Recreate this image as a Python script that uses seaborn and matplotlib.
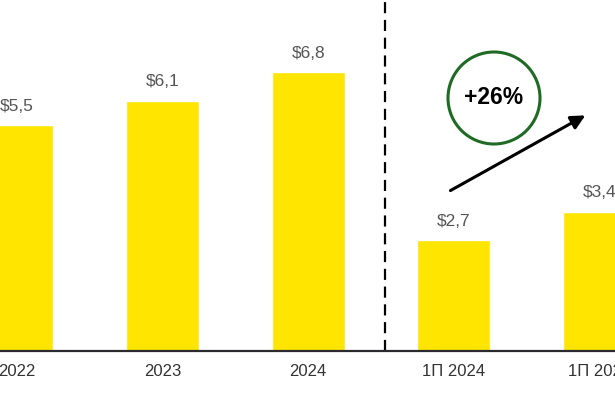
import matplotlib
matplotlib.use("Agg")
import matplotlib.pyplot as plt
import seaborn as sns
import pandas as pd
from matplotlib.patches import Circle

periods = ["2022", "2023", "2024", "1П 2024", "1П 2025"]
values = [5.5, 6.1, 6.8, 2.7, 3.4]
growth_label = "+26%"

df = pd.DataFrame({"period": periods, "value": values})

sns.set_theme(style="white")
plt.rcParams["font.family"] = ["Liberation Sans", "DejaVu Sans"]

fig = plt.figure(figsize=(6.15, 3.94), dpi=100)
ax = fig.add_axes([0, 0.109, 1, 0.891])

sns.barplot(data=df, x="period", y="value", color="#FFE500", width=0.5,
            saturation=1, ax=ax)

# value labels
for i, v in enumerate(values):
    ax.text(i, v + 0.28, "$" + f"{v:.1f}".replace(".", ","), ha="center",
            va="bottom", fontsize=12.5, color="#555555")

ax.set_xlim(-0.117, 4.107)
ax.set_ylim(0, 8.56)
ax.set_xlabel("")
ax.set_ylabel("")
ax.set_yticks([])
ax.tick_params(axis="x", length=0, labelsize=12, colors="#333333", pad=9)
for s in ["top", "right", "left"]:
    ax.spines[s].set_visible(False)
ax.spines["bottom"].set_color("#2a2a2e")
ax.spines["bottom"].set_linewidth(1.6)

# separator between annual and half-year
ax.axvline(2.53, ymin=0, ymax=1, color="black", linestyle=(0, (5, 3)), linewidth=1.6)

# growth arrow
ax.annotate("", xy=(3.92, 5.78), xytext=(2.96, 3.88),
            arrowprops=dict(arrowstyle="-|>,head_length=0.7,head_width=0.35",
                            color="black", lw=2.2))

# growth circle
circ = Circle((4.94, 2.96), 0.46, transform=fig.dpi_scale_trans,
              fill=False, edgecolor="#1f6b24", linewidth=2.2)
fig.patches.append(circ)
fig.text(4.94 / 6.15, 2.96 / 3.94, growth_label, ha="center", va="center",
         fontsize=16.5, fontweight="bold", color="black")

fig.savefig("out.png", dpi=100)
